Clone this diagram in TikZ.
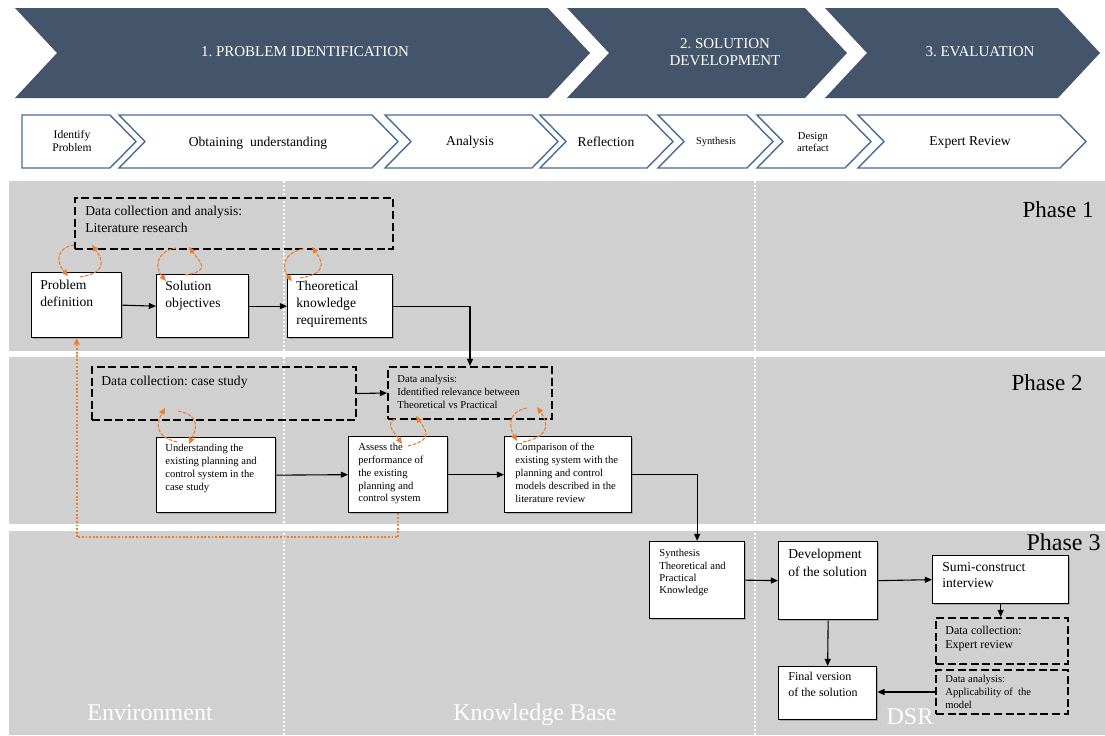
\documentclass[tikz,border=0pt]{standalone}
\usepackage{fontspec}
\setmainfont{Liberation Serif}
\usetikzlibrary{arrows.meta,calc,shadows}
\frenchspacing

\definecolor{stagedark}{RGB}{68,84,106}
\definecolor{stepline}{RGB}{72,108,150}
\definecolor{bandgray}{RGB}{208,208,208}
\definecolor{iterorange}{RGB}{237,125,49}

\tikzset{
  stage/.style={fill=stagedark},
  stepshape/.style={draw=stepline, line width=0.7pt, fill=white},
  stagetext/.style={text=white, align=center, font=\fontsize{7.5}{8.5}\selectfont},
  steptext/.style={align=center, font=\fontsize{6.8}{7}\selectfont},
  procbox/.style={draw, line width=0.65pt, fill=white, anchor=north west, inner sep=0pt,
    drop shadow={shadow xshift=0.9pt, shadow yshift=-0.9pt, fill=black!50, opacity=0.5}},
  databox/.style={draw, line width=1pt, dash pattern=on 4pt off 1.8pt, anchor=north west, inner sep=0pt},
  boxtext/.style={anchor=north west, align=left, inner sep=0pt},
  bigtext/.style={font=\fontsize{6.8}{8.5}\selectfont},
  smalltext/.style={font=\fontsize{5.3}{6.4}\selectfont},
  flow/.style={-{Triangle[length=3.6pt,width=3pt]}, line width=0.55pt},
  iter/.style={-{Triangle[length=3.2pt,width=2.8pt]}, draw=iterorange, line width=0.55pt, dash pattern=on 1.8pt off 0.7pt},
  feedback/.style={-{Triangle[length=3.2pt,width=3pt]}, draw=iterorange, line width=0.9pt, dash pattern=on 0.9pt off 0.9pt},
  phaselabel/.style={anchor=east, inner sep=0pt, font=\fontsize{11.5}{12}\selectfont},
  arealabel/.style={text=white, font=\fontsize{12}{13}\selectfont}
}

\begin{document}
\begin{tikzpicture}[x=0.5pt, y=-0.5pt]
  \useasboundingbox (0,0) rectangle (1105,735);

  % stages
  \fill[stage] (15,8) -- (548,8) -- (590,53) -- (548,98) -- (15,98) -- (57,53) -- cycle;
  \fill[stage] (567,8) -- (805,8) -- (847,53) -- (805,98) -- (567,98) -- (609,53) -- cycle;
  \fill[stage] (825,8) -- (1058,8) -- (1100,53) -- (1058,98) -- (825,98) -- (867,53) -- cycle;
  \node[stagetext] (st1) at (305,52) {1. PROBLEM IDENTIFICATION};
  \node[stagetext] (st2) at (725,52) {2. SOLUTION\\DEVELOPMENT};
  \node[stagetext] (st3) at (980,52) {3. EVALUATION};

  % steps
  \draw[stepshape] (22,115) -- (110,115) -- (136,141.5) -- (110,168) -- (22,168) -- cycle;
  \draw[stepshape] (119,115) -- (372,115) -- (398,141.5) -- (372,168) -- (119,168) -- (145,141.5) -- cycle;
  \draw[stepshape] (385,115) -- (532,115) -- (558,141.5) -- (532,168) -- (385,168) -- (411,141.5) -- cycle;
  \draw[stepshape] (540,115) -- (647,115) -- (673,141.5) -- (647,168) -- (540,168) -- (566,141.5) -- cycle;
  \draw[stepshape] (658,115) -- (747,115) -- (773,141.5) -- (747,168) -- (658,168) -- (684,141.5) -- cycle;
  \draw[stepshape] (757,115) -- (845,115) -- (871,141.5) -- (845,168) -- (757,168) -- (783,141.5) -- cycle;
  \draw[stepshape] (858,115) -- (1060,115) -- (1086,141.5) -- (1060,168) -- (858,168) -- (884,141.5) -- cycle;
  \node[steptext, font=\fontsize{5.8}{6.2}\selectfont] (sp1) at (72,141) {Identify\\Problem};
  \node[steptext] (sp2) at (258,143) {Obtaining~ understanding};
  \node[steptext] (sp3) at (470,142) {Analysis};
  \node[steptext] (sp4) at (606,142) {Reflection};
  \node[steptext, font=\fontsize{5.2}{6}\selectfont] (sp5) at (716,142) {Synthesis};
  \node[steptext, font=\fontsize{5.3}{5.6}\selectfont] (sp6) at (813,142) {Design\\artefact};
  \node[steptext] (sp7) at (970,142) {Expert Review};

  % phase bands
  \fill[bandgray] (9,181) rectangle (1105,351);
  \fill[bandgray] (9,357) rectangle (1105,524);
  \fill[bandgray] (9,531) rectangle (1105,735);
  \draw[white, line width=0.8pt, dash pattern=on 1pt off 1pt] (284,181) -- (284,735);
  \draw[white, line width=0.8pt, dash pattern=on 1pt off 1pt] (755,181) -- (755,735);
  \node[phaselabel] (ph1) at (1094,210) {Phase 1};
  \node[phaselabel] (ph2) at (1083,383) {Phase 2};
  \node[phaselabel, font=\fontsize{12}{13}\selectfont] (ph3) at (1101,542) {Phase 3};
  \node[arealabel] (env) at (150,713) {Environment};
  \node[arealabel] (kb) at (535,715) {Knowledge Base};
  \node[arealabel] (dsr) at (910,717) {DSR};

  % phase 1
  \node[databox, minimum width=159pt, minimum height=25.5pt] (lit) at (74,197) {};
  \node[boxtext, font=\fontsize{6.8}{8.2}\selectfont] (lit-t) at (85,206) {Data collection and analysis:\\Literature research};
  \node[procbox, minimum width=45pt, minimum height=32.5pt] (pdef) at (31,272) {};
  \node[boxtext, bigtext] (pdef-t) at (40,280) {Problem\\definition};
  \node[procbox, minimum width=46pt, minimum height=31.5pt] (sobj) at (156,274) {};
  \node[boxtext, bigtext] (sobj-t) at (165,281) {Solution\\objectives};
  \node[procbox, minimum width=52.5pt, minimum height=31.5pt] (theo) at (287,274) {};
  \node[boxtext, bigtext] (theo-t) at (296,281) {Theoretical\\knowledge\\requirements};

  % phase 2
  \node[databox, minimum width=132pt, minimum height=26.5pt] (case) at (91,366) {};
  \node[boxtext, bigtext] (case-t) at (101,376) {Data collection: case study};
  \node[databox, minimum width=82pt, minimum height=26pt] (dana) at (387,366) {};
  \node[boxtext, smalltext] (dana-t) at (397,375) {Data analysis:\\Identified relevance between\\Theoretical vs Practical};
  \node[procbox, minimum width=59.5pt, minimum height=37.5pt] (und) at (156,437) {};
  \node[boxtext, font=\fontsize{5.3}{6.5}\selectfont] (und-t) at (165,444) {Understanding the\\existing planning and\\control system in the\\case study};
  \node[procbox, minimum width=49.5pt, minimum height=38pt] (assess) at (348,436) {};
  \node[boxtext, font=\fontsize{5.3}{6.4}\selectfont] (assess-t) at (358,443) {Assess the\\performance of\\the existing\\planning and\\control system};
  \node[procbox, minimum width=63.5pt, minimum height=38pt] (comp) at (504,436) {};
  \node[boxtext, font=\fontsize{5.3}{6.5}\selectfont] (comp-t) at (515,443) {Comparison of the\\existing system with the\\planning and control\\models described in the\\literature review};

  % phase 3
  \node[procbox, minimum width=47.5pt, minimum height=38.5pt] (syn) at (649,541) {};
  \node[boxtext, font=\fontsize{5.3}{6.2}\selectfont] (syn-t) at (659,549) {Synthesis\\Theoretical and\\Practical\\Knowledge};
  \node[procbox, minimum width=49.5pt, minimum height=39pt] (dev) at (778,541) {};
  \node[boxtext, font=\fontsize{6.8}{9}\selectfont] (dev-t) at (788,549) {Development\\of the solution};
  \node[procbox, minimum width=68pt, minimum height=24pt] (sumi) at (932,555) {};
  \node[boxtext, font=\fontsize{6.8}{8}\selectfont] (sumi-t) at (942,562) {Sumi-construct\\interview};
  \node[databox, minimum width=66pt, minimum height=23pt] (dcer) at (935,617) {};
  \node[boxtext, font=\fontsize{6}{7}\selectfont] (dcer-t) at (945,626) {Data collection:\\Expert review};
  \node[databox, minimum width=66pt, minimum height=22pt] (daam) at (935,669) {};
  \node[boxtext, font=\fontsize{5.3}{6.5}\selectfont] (daam-t) at (945,675) {Data analysis:\\Applicability of~ the\\model};
  \node[procbox, minimum width=49pt, minimum height=26.5pt] (final) at (778,666) {};
  \node[boxtext, font=\fontsize{6}{8}\selectfont] (final-t) at (788,672) {Final version\\of the solution};

  % flow
  \draw[flow] (pdef.east) -- (sobj.west);
  \draw[flow] (sobj.east) -- (theo.west);
  \draw[flow] (theo.east) -| (dana.north);
  \draw[flow] (case.east) -- (dana.west);
  \draw[flow] (und.east) -- (assess.west);
  \draw[flow] (assess.east) -- (comp.west);
  \draw[flow] (comp.east) -| (syn.north);
  \draw[flow] (syn.east) -- (dev.west);
  \draw[flow] (dev.east) -- (sumi.west);
  \draw[flow] (sumi.south) -- (sumi.south |- dcer.north);
  \draw[flow] (dev.south) -- (final.north);
  \draw[flow] (daam.west) -- (daam.west -| final.east);

  % iterations
  \draw[iter] ($(lit.south west)+(0,-5)$) .. controls +(-18,3) and +(-12,-14) .. ($(pdef.north west)+(37,4)$);
  \draw[iter] ($(pdef.north west)+(49,5)$) .. controls +(26,-4) and +(12,16) .. ($(lit.south west)+(18,-5)$);
  \draw[iter] ($(lit.south west)+(102,-2)$) .. controls +(-19,3) and +(-12,-14) .. ($(sobj.north west)+(10,7)$);
  \draw[iter] ($(sobj.north west)+(29,1)$) .. controls +(26,-4) and +(12,16) .. ($(lit.south west)+(115,-3)$);
  \draw[iter] ($(lit.south west)+(229,-1)$) .. controls +(-18,3) and +(-12,-14) .. ($(theo.north west)+(5,7)$);
  \draw[iter] ($(theo.north west)+(13,4)$) .. controls +(26,-4) and +(12,16) .. ($(lit.south west)+(238,-3)$);
  \draw[iter] ($(und.north west)+(21,5)$) .. controls +(-24,-6) and +(-8,14) .. ($(case.south west)+(74,-13)$);
  \draw[iter] ($(case.south west)+(87,-10)$) .. controls +(22,4) and +(8,-16) .. ($(und.north west)+(33,7)$);
  \draw[iter] ($(dana.south west)+(8,-1)$) .. controls +(-10,5) and +(-8,-12) .. ($(assess.north west)+(54,8)$);
  \draw[iter] ($(assess.north west)+(60,10)$) .. controls +(26,-6) and +(10,14) .. ($(dana.south west)+(29,-4)$);
  \draw[iter] ($(dana.south west)+(140,-12)$) .. controls +(-20,4) and +(-8,-14) .. ($(comp.north west)+(13,5)$);
  \draw[iter] ($(comp.north west)+(19,6)$) .. controls +(30,-6) and +(10,14) .. ($(dana.south west)+(150,-13)$);
  \draw[feedback] (assess.south) -- ++(0,24) -| (pdef.south);
\end{tikzpicture}
\end{document}
